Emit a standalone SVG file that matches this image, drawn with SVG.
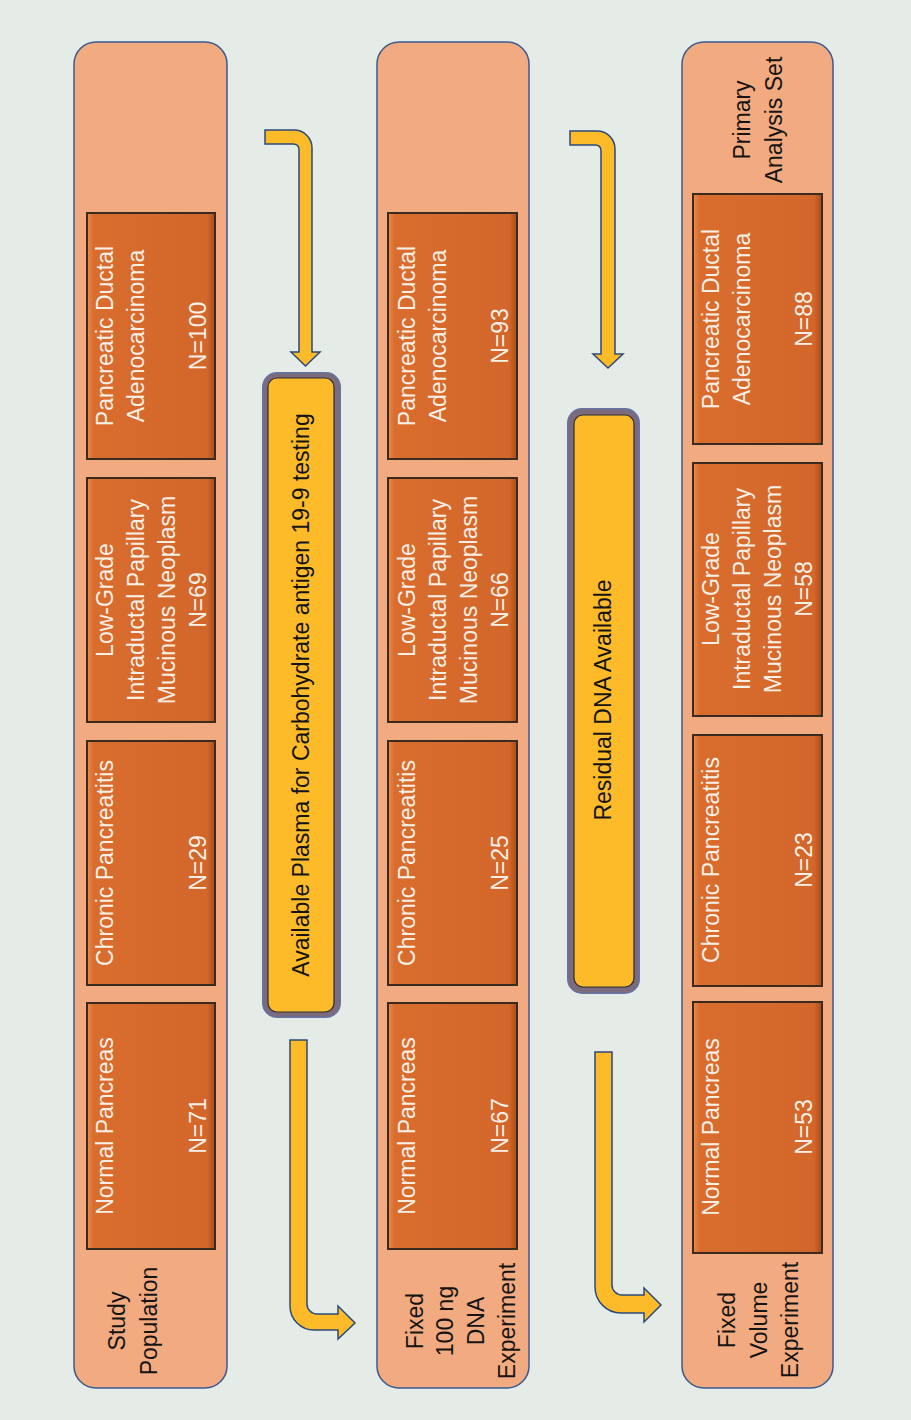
<svg xmlns="http://www.w3.org/2000/svg" width="911" height="1420" viewBox="0 0 911 1420">
<defs>
<linearGradient id="boxg" x1="0" y1="0" x2="1" y2="0">
<stop offset="0" stop-color="#ec8c48"/>
<stop offset="0.05" stop-color="#d96d2e"/>
<stop offset="0.94" stop-color="#d3662a"/>
<stop offset="1" stop-color="#a64d1c"/>
</linearGradient>
<style>
.panel{fill:#f2aa80;stroke:#3b5b8e;stroke-width:1.5}
.box{fill:url(#boxg);stroke:#3a2a20;stroke-width:2}
.bt{font-family:"Liberation Sans",Arial,sans-serif;font-size:23px;fill:#f6efe6;text-anchor:middle}
.lt{font-family:"Liberation Sans",Arial,sans-serif;font-size:23px;fill:#141414;text-anchor:middle}
.yo{fill:#6673a3}
.ym{fill:#7b6b7c}
.yi{fill:#fdbb2a;stroke:#2e2e2e;stroke-width:1.2}
.arrow{fill:#fdbb2a;stroke:#2b4a7a;stroke-width:1.5;stroke-linejoin:miter}
</style>
</defs>
<rect x="0" y="0" width="911" height="1420" fill="#e5ebe6"/>

<g id="panel1">
<rect class="panel" x="74" y="42" width="153" height="1346" rx="22"/>
<text class="lt" transform="translate(125,1321) rotate(-90)"><tspan x="0" dy="0">Study</tspan><tspan x="0" dy="32">Population</tspan></text>
</g>
<g id="p1-pdac">
<rect class="box" x="87" y="213" width="128" height="246"/>
<text class="bt" transform="translate(113,336) rotate(-90)"><tspan x="0" dy="0">Pancreatic Ductal</tspan><tspan x="0" dy="31">Adenocarcinoma</tspan><tspan x="0" dy="62">N=100</tspan></text>
</g>
<g id="p1-ipmn">
<rect class="box" x="87" y="478" width="128" height="244"/>
<text class="bt" transform="translate(113,600) rotate(-90)"><tspan x="0" dy="0">Low-Grade</tspan><tspan x="0" dy="31">Intraductal Papillary</tspan><tspan x="0" dy="31">Mucinous Neoplasm</tspan><tspan x="0" dy="31">N=69</tspan></text>
</g>
<g id="p1-cp">
<rect class="box" x="87" y="741" width="128" height="244"/>
<text class="bt" transform="translate(113,863) rotate(-90)"><tspan x="0" dy="0">Chronic Pancreatitis</tspan><tspan x="0" dy="93">N=29</tspan></text>
</g>
<g id="p1-np">
<rect class="box" x="87" y="1003" width="128" height="246"/>
<text class="bt" transform="translate(113,1126) rotate(-90)"><tspan x="0" dy="0">Normal Pancreas</tspan><tspan x="0" dy="93">N=71</tspan></text>
</g>

<g id="panel2">
<rect class="panel" x="377" y="42" width="152" height="1346" rx="22"/>
<text class="lt" transform="translate(423,1321) rotate(-90)"><tspan x="0" dy="0">Fixed</tspan><tspan x="0" dy="30">100 ng</tspan><tspan x="0" dy="31">DNA</tspan><tspan x="0" dy="31">Experiment</tspan></text>
</g>
<g id="p2-pdac">
<rect class="box" x="388" y="213" width="129" height="246"/>
<text class="bt" transform="translate(415,336) rotate(-90)"><tspan x="0" dy="0">Pancreatic Ductal</tspan><tspan x="0" dy="31">Adenocarcinoma</tspan><tspan x="0" dy="62">N=93</tspan></text>
</g>
<g id="p2-ipmn">
<rect class="box" x="388" y="478" width="129" height="244"/>
<text class="bt" transform="translate(415,600) rotate(-90)"><tspan x="0" dy="0">Low-Grade</tspan><tspan x="0" dy="31">Intraductal Papillary</tspan><tspan x="0" dy="31">Mucinous Neoplasm</tspan><tspan x="0" dy="31">N=66</tspan></text>
</g>
<g id="p2-cp">
<rect class="box" x="388" y="741" width="129" height="244"/>
<text class="bt" transform="translate(415,863) rotate(-90)"><tspan x="0" dy="0">Chronic Pancreatitis</tspan><tspan x="0" dy="93">N=25</tspan></text>
</g>
<g id="p2-np">
<rect class="box" x="388" y="1003" width="129" height="246"/>
<text class="bt" transform="translate(415,1126) rotate(-90)"><tspan x="0" dy="0">Normal Pancreas</tspan><tspan x="0" dy="93">N=67</tspan></text>
</g>

<g id="panel3">
<rect class="panel" x="682" y="42" width="151" height="1346" rx="22"/>
<text class="lt" transform="translate(750,120) rotate(-90)"><tspan x="0" dy="0">Primary</tspan><tspan x="0" dy="32">Analysis Set</tspan></text>
<text class="lt" transform="translate(735,1320) rotate(-90)"><tspan x="0" dy="0">Fixed</tspan><tspan x="0" dy="32">Volume</tspan><tspan x="0" dy="31">Experiment</tspan></text>
</g>
<g id="p3-pdac">
<rect class="box" x="693" y="194" width="129" height="250"/>
<text class="bt" transform="translate(719,319) rotate(-90)"><tspan x="0" dy="0">Pancreatic Ductal</tspan><tspan x="0" dy="31">Adenocarcinoma</tspan><tspan x="0" dy="62">N=88</tspan></text>
</g>
<g id="p3-ipmn">
<rect class="box" x="693" y="463" width="129" height="253"/>
<text class="bt" transform="translate(719,589) rotate(-90)"><tspan x="0" dy="0">Low-Grade</tspan><tspan x="0" dy="31">Intraductal Papillary</tspan><tspan x="0" dy="31">Mucinous Neoplasm</tspan><tspan x="0" dy="31">N=58</tspan></text>
</g>
<g id="p3-cp">
<rect class="box" x="693" y="735" width="129" height="251"/>
<text class="bt" transform="translate(719,860) rotate(-90)"><tspan x="0" dy="0">Chronic Pancreatitis</tspan><tspan x="0" dy="93">N=23</tspan></text>
</g>
<g id="p3-np">
<rect class="box" x="693" y="1002" width="129" height="251"/>
<text class="bt" transform="translate(719,1127) rotate(-90)"><tspan x="0" dy="0">Normal Pancreas</tspan><tspan x="0" dy="93">N=53</tspan></text>
</g>

<g id="filter1">
<rect class="yo" x="262" y="372" width="79" height="646" rx="15"/>
<rect class="ym" x="263.5" y="373.5" width="76" height="643" rx="13.5"/>
<rect class="yi" x="268" y="378" width="66" height="634" rx="9"/>
<text class="lt" transform="translate(309,695) rotate(-90)">Available Plasma for Carbohydrate antigen 19-9 testing</text>
</g>
<g id="filter2">
<rect class="yo" x="567" y="408" width="73" height="586" rx="15"/>
<rect class="ym" x="568.5" y="409.5" width="70" height="583" rx="13.5"/>
<rect class="yi" x="574" y="415" width="60" height="572" rx="9"/>
<text class="lt" transform="translate(611,700) rotate(-90)">Residual DNA Available</text>
</g>

<g id="connectors">
<path class="arrow" d="M265,130 L294,130 A18,18 0 0 1 312,148 L312,352 L320,352 L305.5,366 L291,352 L299,352 L299,150 Q299,144 293,144 L265,144 Z"/>
<path class="arrow" d="M290,1040 L307,1040 L307,1304 A10,10 0 0 0 317,1314 L338,1314 L338,1306 L355,1323 L338,1339 L338,1330 L314,1330 A24,24 0 0 1 290,1306 Z"/>
<path class="arrow" d="M570,131 L597,131 A18,18 0 0 1 615,149 L615,354 L623,354 L608,368 L593,354 L601,354 L601,151 Q601,145 595,145 L570,145 Z"/>
<path class="arrow" d="M595,1052 L612,1052 L612,1285 A10,10 0 0 0 622,1295 L644,1295 L644,1288 L661,1305 L644,1322 L644,1313 L621,1313 A26,26 0 0 1 595,1287 Z"/>
</g>
</svg>
